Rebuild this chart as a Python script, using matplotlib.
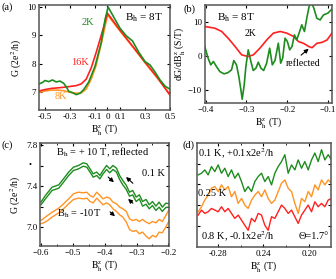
import numpy as np
import matplotlib
matplotlib.use("Agg")
import matplotlib.pyplot as plt

plt.rcParams['font.family'] = ['Liberation Serif', 'DejaVu Serif']
plt.rcParams['mathtext.fontset'] = 'stix'
plt.rcParams['xtick.direction'] = 'in'
plt.rcParams['ytick.direction'] = 'in'
plt.rcParams['xtick.top'] = True
plt.rcParams['ytick.right'] = True
plt.rcParams['font.size'] = 7

GREEN, RED, ORANGE = "#1e8c1e", "#ff2020", "#ff9424"
BZ = r"$\mathrm{B_h^z}$ (T)"

# ---- (a) G vs B, Bh = 8T ----
a_b_2k = [-0.548, -0.52, -0.50, -0.47, -0.44, -0.41, -0.38, -0.35, -0.33, -0.31,
          -0.28, -0.25, -0.22, -0.19, -0.15, -0.10, -0.05, -0.02, 0.005, 0.03,
          0.10, 0.15, 0.20, 0.25, 0.30, 0.34, 0.38, 0.42, 0.46, 0.497]
a_g_2k = [7.28, 7.33, 7.40, 7.36, 7.42, 7.35, 7.38, 7.30, 7.18, 7.02,
          6.97, 6.90, 6.95, 7.08, 7.35, 7.90, 8.75, 9.55, 10.0, 9.80,
          9.25, 8.98, 8.80, 8.40, 8.07, 7.95, 7.70, 7.42, 7.20, 7.10]
a_b_8k = [-0.548, -0.50, -0.45, -0.40, -0.35, -0.30, -0.25, -0.21, -0.17, -0.13,
          -0.09, -0.05, -0.02, 0.0, 0.1, 0.2, 0.3, 0.4, 0.497]
a_g_8k = [6.98, 7.03, 7.06, 7.06, 7.04, 6.98, 6.95, 6.96, 7.10, 7.45,
          7.95, 8.70, 9.30, 9.72, 9.15, 8.60, 8.03, 7.48, 6.92]
a_b_16k = [-0.548, -0.50, -0.45, -0.40, -0.35, -0.30, -0.25, -0.21, -0.17, -0.13,
           -0.09, -0.05, -0.02, 0.0, 0.1, 0.2, 0.3, 0.4, 0.497]
a_g_16k = [7.03, 7.08, 7.12, 7.14, 7.16, 7.19, 7.22, 7.28, 7.45, 7.85,
           8.40, 9.00, 9.45, 9.78, 9.18, 8.62, 8.05, 7.50, 6.90]

# ---- (b) dG/dB ----
b_b_2k = [-0.4025, -0.3943, -0.3877, -0.3812, -0.3738, -0.3656, -0.355, -0.3451,
          -0.3368, -0.3311, -0.3245, -0.3188, -0.3138, -0.3105, -0.3056, -0.3015,
          -0.2957, -0.2892, -0.2834, -0.2768, -0.2710, -0.2645, -0.2579, -0.2505,
          -0.2431, -0.2365, -0.2300, -0.2218, -0.2160, -0.2111, -0.2053, -0.1996,
          -0.1938, -0.1881, -0.1823, -0.1766, -0.1708, -0.1642, -0.1576, -0.1519,
          -0.1461, -0.1412, -0.1346, -0.1272, -0.1190, -0.1107, -0.1000, -0.0902]
b_d_2k = [2.76, -0.69, -2.66, -1.67, -3.15, -4.63, -5.32, -4.92,
          -4.14, -1.38, -2.66, -6.1, -10.0, -12.8, -8.57, -3.15,
          1.77, -1.67, -4.33, -3.64, -1.87, -3.64, -4.33, -2.17,
          2.27, -2.66, -1.38, 3.74, -2.17, -0.69, 5.22, 4.23,
          1.77, 2.76, 6.2, 4.73, 6.7, 9.16, 7.19, 11.1,
          14.6, 16.0, 14.1, 11.1, 10.6, 12.1, 12.6, 13.8]
b_b_ref = [-0.4025, -0.378, -0.361, -0.345, -0.328, -0.312, -0.296, -0.283, -0.267,
           -0.250, -0.234, -0.217, -0.201, -0.184, -0.172, -0.160, -0.147, -0.139,
           -0.127, -0.114, -0.102, -0.090]
b_d_ref = [8.67, 8.17, 7.2, 5.2, 2.76, 0.3, -0.2, 0.3, 2.27,
           4.73, 6.7, 7.2, 6.7, 5.7, 4.2, 3.7, 2.76, 2.4,
           3.7, 4.0, 4.7, 6.7]

# ---- (c) Bh = +/-10T, 0.1 K ----
c_b = [-0.600, -0.586, -0.565, -0.544, -0.529, -0.513, -0.498, -0.482, -0.467, -0.456,
       -0.446, -0.436, -0.425, -0.415, -0.405, -0.394, -0.384, -0.374, -0.363, -0.353,
       -0.343, -0.332, -0.322, -0.312, -0.301, -0.291, -0.281, -0.270, -0.260, -0.250,
       -0.239, -0.229, -0.219, -0.208, -0.198]
c_g_up = [7.244, 7.309, 7.390, 7.413, 7.472, 7.537, 7.585, 7.602, 7.628, 7.618,
          7.569, 7.520, 7.537, 7.504, 7.553, 7.602, 7.569, 7.602, 7.576, 7.504,
          7.455, 7.407, 7.341, 7.358, 7.293, 7.315, 7.250, 7.270, 7.218, 7.250,
          7.205, 7.244, 7.195, 7.234, 7.228]
c_g_lo = [7.218, 7.276, 7.358, 7.380, 7.439, 7.504, 7.553, 7.569, 7.595, 7.585,
          7.537, 7.488, 7.504, 7.471, 7.520, 7.563, 7.530, 7.563, 7.537, 7.465,
          7.413, 7.367, 7.302, 7.315, 7.250, 7.276, 7.205, 7.224, 7.179, 7.211,
          7.163, 7.195, 7.153, 7.192, 7.195]
c_o_up = [7.065, 7.098, 7.146, 7.185, 7.228, 7.276, 7.325, 7.341, 7.335, 7.341,
          7.309, 7.293, 7.341, 7.309, 7.276, 7.293, 7.283, 7.244, 7.228, 7.195,
          7.179, 7.153, 7.081, 7.065, 7.075, 7.055, 7.075, 7.049, 7.033, 7.055,
          7.042, 7.075, 7.055, 7.114, 7.170]
c_o_lo = [7.033, 7.049, 7.098, 7.140, 7.179, 7.228, 7.270, 7.283, 7.276, 7.283,
          7.250, 7.237, 7.283, 7.250, 7.218, 7.237, 7.218, 7.179, 7.153, 7.120,
          7.098, 7.049, 6.977, 6.958, 6.967, 6.935, 6.951, 6.912, 6.886, 6.919,
          6.903, 6.951, 6.945, 7.000, 7.060]

# ---- (d) temperature dependence, offsets +/-0.1 ----
d_g_01 = [7.246, 7.254, 7.270, 7.246, 7.286, 7.262, 7.294, 7.254, 7.278, 7.238,
          7.270, 7.230, 7.254, 7.214, 7.166, 7.190, 7.166, 7.214, 7.238, 7.254,
          7.214, 7.238, 7.198, 7.254, 7.286, 7.310, 7.343, 7.254, 7.294, 7.270,
          7.318, 7.278, 7.310, 7.270, 7.318, 7.351, 7.310, 7.367, 7.318, 7.343, 7.318]
d_g_025 = [7.069, 7.093, 7.125, 7.149, 7.182, 7.190, 7.166, 7.198, 7.174, 7.190,
           7.141, 7.166, 7.109, 7.133, 7.101, 7.085, 7.125, 7.149, 7.166, 7.141,
           7.174, 7.133, 7.109, 7.125, 7.166, 7.206, 7.222, 7.182, 7.166, 7.109,
           7.061, 7.133, 7.117, 7.166, 7.141, 7.198, 7.174, 7.222, 7.198, 7.222, 7.206]
d_g_08 = [7.053, 7.077, 7.061, 7.069, 7.085, 7.077, 7.069, 7.093, 7.069, 7.085,
          7.061, 7.037, 7.053, 7.029, 7.004, 6.980, 7.037, 7.021, 7.061, 7.053,
          7.004, 6.980, 7.045, 7.037, 7.069, 7.101, 7.085, 7.061, 7.077, 7.045,
          7.013, 7.053, 7.077, 7.101, 7.069, 7.117, 7.093, 7.109, 7.093, 7.125, 7.133]
d_b = np.linspace(-0.2974, -0.1802, len(d_g_01))
d_ticks = [-0.28, -0.24, -0.20]
d_ticklabels = ["-0.28", "0.24", "0.20"]

fig = plt.figure(figsize=(3.36, 2.79), dpi=100)
axa = fig.add_axes([0.116, 0.606, 0.390, 0.376])
axb = fig.add_axes([0.610, 0.631, 0.378, 0.351])
axc = fig.add_axes([0.119, 0.118, 0.384, 0.369])
axd = fig.add_axes([0.586, 0.115, 0.399, 0.373])

for ax in (axa, axb, axc, axd):
    for s in ax.spines.values():
        s.set_color("#555555")
        s.set_linewidth(1.1)
    ax.tick_params(length=2.5, width=0.8, labelsize=6.5, pad=2)
    ax.tick_params(which="minor", length=1.5, width=0.6)

# (a)
axa.plot(a_b_8k, a_g_8k, color=ORANGE, lw=1.2)
axa.plot(a_b_16k, a_g_16k, color=RED, lw=1.2)
axa.plot(a_b_2k, a_g_2k, color=GREEN, lw=1.2)
axa.set_xlim(-0.548, 0.497)
axa.set_ylim(6.36, 10.07)
axa.set_xticks([-0.5, -0.3, -0.1, 0, 0.1, 0.3, 0.5])
axa.set_xticklabels(["-0.5", "-0.3", "-0.1", "0", "0.1", "0.3", "0.5"])
axa.set_yticks([7, 8, 9, 10])
axa.set_xlabel(BZ, labelpad=1)
axa.set_ylabel("G (2e$^2$/h)", labelpad=2)
axa.text(0.374, 0.829, "2K", color=GREEN, transform=axa.transAxes, ha="center", va="center", fontsize=7.5)
axa.text(0.313, 0.448, "16K", color=RED, transform=axa.transAxes, ha="center", va="center", fontsize=7.5)
axa.text(0.168, 0.124, "8K", color=ORANGE, transform=axa.transAxes, ha="center", va="center", fontsize=7.5)
axa.text(0.80, 0.876, r"B$_\mathrm{h}$ = 8T", transform=axa.transAxes, ha="center", va="center", fontsize=8)

# (b)
axb.plot(b_b_ref, b_d_ref, color=RED, lw=1.2)
axb.plot(b_b_2k, b_d_2k, color=GREEN, lw=1.2)
axb.set_xlim(-0.402, -0.09)
axb.set_ylim(-13.9, 15.0)
axb.set_xticks([-0.4, -0.3, -0.2, -0.1])
axb.set_yticks([-10, 0, 10])
axb.set_xlabel(BZ, labelpad=1)
axb.set_ylabel(r"dG/dB$_\mathrm{h}^\mathrm{z}$ (S/T)", labelpad=1)
axb.text(0.244, 0.867, r"B$_\mathrm{h}$ = 8T", transform=axb.transAxes, ha="center", va="center", fontsize=8)
axb.text(0.362, 0.714, "2K", transform=axb.transAxes, ha="center", va="center", fontsize=7)
axb.text(0.772, 0.40, "reflected", transform=axb.transAxes, ha="center", va="center", fontsize=7)
axb.annotate("", xy=(-0.142, 2.6), xytext=(0.74, 0.47), textcoords="axes fraction",
             arrowprops=dict(arrowstyle="-|>", color="black", lw=0.8, mutation_scale=6))

# (c)
for gy, col in ((c_g_up, GREEN), (c_g_lo, GREEN), (c_o_up, ORANGE), (c_o_lo, ORANGE)):
    axc.plot(c_b, gy, color=col, lw=1.0)
axc.set_xlim(-0.603, -0.198)
axc.set_ylim(6.815, 7.82)
axc.set_xticks([-0.6, -0.5, -0.4, -0.3, -0.2])
axc.set_xticks(np.arange(-0.55, -0.2, 0.1), minor=True)
axc.set_yticks([7.0, 7.2, 7.4, 7.6, 7.8])
axc.set_yticklabels(["7.0", "", "7.4", "", "7.8"])
axc.set_xlabel(BZ, labelpad=1)
axc.set_ylabel("G (2e$^2$/h)", labelpad=2)
axc.text(0.488, 0.913, r"B$_\mathrm{h}$ = + 10 T, reflected", transform=axc.transAxes, ha="center", va="center", fontsize=7.5)
axc.text(0.876, 0.709, "0.1 K", transform=axc.transAxes, ha="center", va="center", fontsize=7.5)
axc.text(0.302, 0.311, r"B$_\mathrm{h}$ = -10T", transform=axc.transAxes, ha="center", va="center", fontsize=7.5)
arrows_c = [((0.512, 0.689), (0.589, 0.602)), ((0.736, 0.592), (0.651, 0.689)),
            ((0.736, 0.398), (0.667, 0.476)), ((0.527, 0.350), (0.597, 0.272))]
for tail, head in arrows_c:
    axc.annotate("", xy=head, xytext=tail, xycoords="axes fraction", textcoords="axes fraction",
                 arrowprops=dict(arrowstyle="-|>", color="black", lw=0.8, mutation_scale=6))

# (d)
axd.plot(d_b, d_g_01, color=GREEN, lw=1.0)
axd.plot(d_b, d_g_025, color=ORANGE, lw=1.0)
axd.plot(d_b, d_g_08, color=RED, lw=1.0)
axd.set_xlim(-0.2985, -0.1807)
axd.set_ylim(6.9, 7.40)
axd.set_xticks(d_ticks)
axd.set_xticklabels(d_ticklabels)
axd.set_xticks([-0.26, -0.22], minor=True)
axd.set_yticks([7.0, 7.1, 7.2, 7.3])
axd.set_yticklabels([])
axd.set_xlabel(BZ, labelpad=1)
axd.text(0.007, 0.894, "0.1 K, +0.1x2e$^2$/h", transform=axd.transAxes, ha="left", va="center", fontsize=7.5)
axd.text(0.005, 0.51, "0.25 K", transform=axd.transAxes, ha="left", va="center", fontsize=7.5)
axd.text(0.03, 0.096, "0.8 K, -0.1x2e$^2$/h", transform=axd.transAxes, ha="left", va="center", fontsize=7.5)
axd.text(0.985, 0.096, "Θ=1.7°", transform=axd.transAxes, ha="right", va="center", fontsize=7.5)

fig.text(0.005, 0.975, "(a)", ha="left", va="center", fontsize=7.5)
fig.text(0.545, 0.968, "(b)", ha="left", va="center", fontsize=7.5)
fig.text(0.005, 0.480, "(c)", ha="left", va="center", fontsize=7.5)
fig.text(0.542, 0.480, "(d)", ha="left", va="center", fontsize=7.5)
fig.text(0.089, 0.409, "•", ha="center", va="center", fontsize=6)

fig.savefig("out.png", dpi=100)
